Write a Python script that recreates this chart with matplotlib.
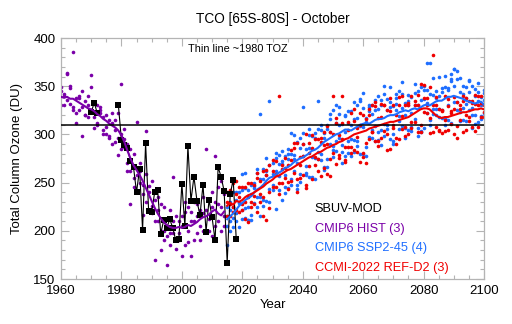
import numpy as np
import matplotlib
matplotlib.use("Agg")
import matplotlib.pyplot as plt
from matplotlib.ticker import MultipleLocator

plt.rcParams['font.family'] = ['Liberation Sans', 'DejaVu Sans']

# ---------------- data ----------------
hist_years = list(range(1960, 2015))
hist_m1 = [345, 330, 364, 348, 385, 322, 340, 298, 335, 318,
           362, 307, 330, 325, 305, 320, 298, 290, 315, 279,
           352, 306, 262, 228, 280, 313, 250, 216, 304, 240,
           252, 232, 210, 180, 225, 165, 198, 256, 181, 210,
           174, 220, 200, 174, 230, 215, 190, 235, 285, 200,
           240, 278, 210, 225, 238]
hist_m2 = [349, 340, 363, 332, 328, 338, 325, 345, 320, 330,
           349, 318, 310, 322, 300, 308, 315, 322, 292, 296,
           300, 287, 270, 285, 245, 258, 270, 238, 259, 222,
           218, 170, 235, 200, 190, 212, 185, 198, 215, 190,
           215, 185, 225, 210, 190, 228, 205, 200, 222, 212,
           195, 230, 245, 200, 215]
hist_m3 = [330, 342, 336, 350, 325, 312, 338, 328, 320, 340,
           325, 333, 312, 328, 318, 300, 296, 312, 305, 322,
           285, 295, 290, 262, 255, 240, 262, 248, 230, 246,
           226, 210, 222, 228, 200, 195, 222, 210, 190, 198,
           205, 230, 188, 220, 210, 198, 222, 218, 200, 232,
           225, 205, 228, 252, 205]
hist_mean = [339, 338, 339, 337, 337, 335, 333, 331, 329, 327,
             326, 324, 321, 319, 316, 314, 311, 309, 307, 304,
             299, 292, 283, 275, 268, 263, 258, 252, 245, 238,
             231, 224, 218, 213, 209, 206, 204, 203, 203, 204,
             203, 204, 206, 205, 207, 209, 212, 214, 215, 217,
             220, 222, 218, 216, 220]

fut_years = list(range(2015, 2101))
ssp_m1 = [185, 230, 213, 240, 204, 259, 224, 211, 248, 244,
          260, 215, 254, 276, 243, 259, 223, 279, 269, 245,
          280, 301, 262, 248, 296, 278, 260, 306, 277, 296,
          335, 273, 296, 266, 316, 288, 331, 296, 270, 320,
          293, 324, 282, 317, 337, 280, 317, 297, 331, 309,
          326, 289, 350, 310, 349, 300, 325, 345, 309, 333,
          305, 339, 330, 298, 349, 346, 322, 374, 326, 345,
          318, 344, 361, 331, 363, 368, 325, 344, 315, 338,
          356, 320, 340, 313, 339, 322]
ssp_m2 = [225, 200, 240, 218, 240, 222, 260, 225, 211, 250,
          235, 321, 232, 262, 230, 270, 262, 242, 283, 258,
          285, 254, 279, 243, 286, 301, 258, 286, 256, 301,
          275, 310, 266, 306, 290, 325, 283, 310, 282, 319,
          281, 310, 294, 330, 280, 343, 313, 330, 296, 325,
          294, 330, 342, 306, 328, 293, 338, 319, 354, 307,
          335, 304, 343, 330, 302, 350, 333, 315, 359, 326,
          340, 317, 349, 315, 355, 368, 334, 358, 327, 349,
          325, 350, 311, 344, 330, 346]
ssp_m3 = [205, 222, 204, 232, 229, 212, 244, 242, 216, 246,
          264, 235, 226, 258, 335, 242, 276, 269, 232, 278,
          244, 280, 274, 292, 259, 328, 285, 256, 298, 276,
          306, 280, 263, 310, 302, 277, 312, 328, 289, 302,
          324, 278, 316, 293, 335, 308, 278, 328, 321, 293,
          340, 305, 311, 337, 295, 329, 342, 306, 327, 296,
          341, 322, 352, 307, 336, 307, 374, 342, 321, 338,
          360, 325, 310, 348, 357, 334, 366, 314, 350, 332,
          344, 307, 347, 335, 316, 343]
ssp_m4 = [215, 210, 225, 210, 230, 242, 213, 211, 238, 229,
          225, 254, 264, 231, 268, 247, 281, 257, 272, 239,
          274, 248, 299, 270, 251, 290, 267, 299, 285, 254,
          282, 305, 301, 275, 321, 284, 293, 321, 311, 278,
          312, 295, 334, 288, 309, 327, 287, 324, 305, 336,
          303, 336, 298, 325, 334, 290, 332, 314, 342, 320,
          330, 308, 316, 345, 304, 337, 346, 310, 341, 320,
          326, 348, 317, 346, 312, 350, 357, 323, 342, 314,
          355, 327, 320, 353, 319, 336]
ssp_mean = [212, 215, 218, 222, 226, 229, 232, 234, 236, 240,
            243, 245, 248, 252, 255, 256, 258, 260, 262, 265,
            266, 268, 271, 273, 275, 276, 278, 280, 283, 284,
            286, 289, 292, 294, 296, 298, 300, 301, 303, 305,
            305, 304, 306, 308, 310, 311, 312, 311, 313, 315,
            316, 316, 317, 319, 320, 320, 321, 323, 324, 325,
            324, 326, 327, 326, 328, 330, 331, 330, 332, 334,
            335, 335, 337, 339, 339, 340, 339, 338, 337, 335,
            334, 333, 332, 333, 334, 331]

ccmi_m1 = [240, 215, 250, 222, 245, 228, 212, 250, 225, 236,
           255, 230, 262, 211, 268, 245, 272, 250, 264, 255,
           243, 273, 291, 254, 268, 290, 247, 281, 299, 268,
           295, 257, 303, 290, 257, 300, 312, 276, 340, 287,
           287, 322, 284, 307, 271, 320, 291, 326, 303, 334,
           288, 318, 330, 300, 338, 307, 290, 331, 319, 298,
           330, 313, 335, 303, 352, 323, 338, 317, 382, 308,
           304, 325, 340, 305, 324, 300, 334, 315, 340, 320,
           335, 308, 332, 340, 318, 330]
ccmi_m2 = [215, 242, 225, 252, 220, 245, 230, 209, 250, 228,
           220, 252, 235, 258, 240, 262, 245, 340, 250, 265,
           268, 252, 286, 240, 277, 258, 300, 267, 254, 295,
           275, 296, 265, 309, 275, 340, 269, 299, 312, 271,
           313, 287, 326, 282, 310, 281, 270, 320, 302, 329,
           293, 332, 304, 325, 285, 330, 320, 295, 340, 308,
           333, 307, 331, 341, 303, 338, 322, 349, 303, 330,
           305, 324, 304, 329, 322, 339, 309, 331, 302, 338,
           318, 335, 304, 330, 340, 318]
ccmi_m3 = [230, 228, 220, 238, 235, 222, 245, 235, 230, 248,
           260, 238, 215, 263, 224, 273, 259, 238, 268, 276,
           251, 284, 260, 291, 255, 278, 244, 291, 286, 277,
           262, 292, 289, 259, 303, 281, 317, 279, 295, 273,
           305, 281, 314, 297, 322, 277, 316, 295, 331, 293,
           317, 296, 331, 284, 324, 310, 296, 339, 306, 331,
           300, 340, 313, 330, 310, 351, 331, 301, 331, 339,
           326, 301, 315, 337, 311, 326, 296, 326, 335, 305,
           314, 333, 341, 308, 333, 323]
ccmi_mean = [226, 229, 227, 231, 230, 232, 235, 237, 238, 240,
             242, 244, 246, 249, 251, 253, 256, 257, 259, 261,
             263, 264, 266, 268, 270, 272, 274, 276, 277, 279,
             281, 282, 284, 286, 287, 289, 290, 292, 293, 295,
             296, 298, 300, 301, 302, 303, 304, 306, 307, 308,
             309, 310, 311, 312, 313, 313, 314, 315, 316, 317,
             318, 320, 322, 324, 326, 327, 327, 326, 323, 320,
             318, 317, 318, 318, 319, 320, 321, 322, 323, 323,
             324, 325, 326, 326, 327, 326]

sbuv_years = list(range(1970, 2019))
sbuv_vals = [323, 333, 322, np.nan, np.nan, np.nan, np.nan, np.nan, np.nan, 330,
             294, 289, 286, 272, 266, 240, 264, 201, 291, 221,
             219, 240, 242, 197, 211, 203, 212, 203, 190, 191,
             249, 205, 288, 231, 256, 231, 216, 248, 199, 232,
             214, 190, 266, 256, 241, 167, 238, 253, 191]

toz_1980 = 310

labels = ["SBUV-MOD", "CMIP6 HIST (3)", "CMIP6 SSP2-45 (4)", "CCMI-2022 REF-D2 (3)"]
c_black, c_purple, c_blue, c_red = "black", "#7A00A8", "#1E6EFF", "#F00000"

# ---------------- figure ----------------
fig = plt.figure(figsize=(5.12, 3.24), dpi=100)
ax = fig.add_axes([61/512, 1-279/324, (484-61)/512, (279-38)/324])

ms = 2.6
for m in (hist_m1, hist_m2, hist_m3):
    ax.plot(hist_years, m, 'o', color=c_purple, ms=ms, mew=0, zorder=2)
for m in (ssp_m1, ssp_m2, ssp_m3, ssp_m4):
    ax.plot(fut_years, m, 'o', color=c_blue, ms=ms, mew=0, zorder=2)
for m in (ccmi_m1, ccmi_m2, ccmi_m3):
    ax.plot(fut_years, m, 'o', color=c_red, ms=ms, mew=0, zorder=2)

ax.plot(sbuv_years, sbuv_vals, '-', color='black', lw=0.8, zorder=3)
ax.plot(sbuv_years, sbuv_vals, 's', color='black', ms=4.2, mew=0, zorder=4)

ax.plot(hist_years, hist_mean, '-', color=c_purple, lw=1.5, zorder=5)
ax.plot(fut_years, ssp_mean, '-', color=c_blue, lw=1.5, zorder=5)
ax.plot(fut_years, ccmi_mean, '-', color=c_red, lw=1.5, zorder=5)

ax.axhline(toz_1980, color='black', lw=1.1, zorder=6)

ax.set_xlim(1960, 2100)
ax.set_ylim(150, 400)
ax.xaxis.set_major_locator(MultipleLocator(20))
ax.xaxis.set_minor_locator(MultipleLocator(5))
ax.yaxis.set_major_locator(MultipleLocator(50))
ax.yaxis.set_minor_locator(MultipleLocator(10))
gray = '#B4B4B4'
for s in ax.spines.values():
    s.set_color(gray)
    s.set_linewidth(0.9)
ax.tick_params(which='both', direction='in', top=True, right=True, color=gray,
               labelsize=9.5, width=0.8)
ax.tick_params(which='major', length=5.5, pad=4)
ax.tick_params(which='minor', length=2.8)

ax.set_title("TCO [65S-80S] - October", fontsize=9.8, pad=11)
ax.set_xlabel("Year", fontsize=9.5, labelpad=2)
ax.set_ylabel("Total Column Ozone (DU)", fontsize=9.5, labelpad=7)

ax.text(2002, 389, "Thin line ~1980 TOZ", fontsize=7.8, va='center', ha='left')
for lab, col, yv in zip(labels, [c_black, c_purple, c_blue, c_red], [223, 202, 182, 161]):
    ax.text(2044, yv, lab, color=col, fontsize=9.2, va='center', ha='left')

fig.savefig("out.png", dpi=100)
